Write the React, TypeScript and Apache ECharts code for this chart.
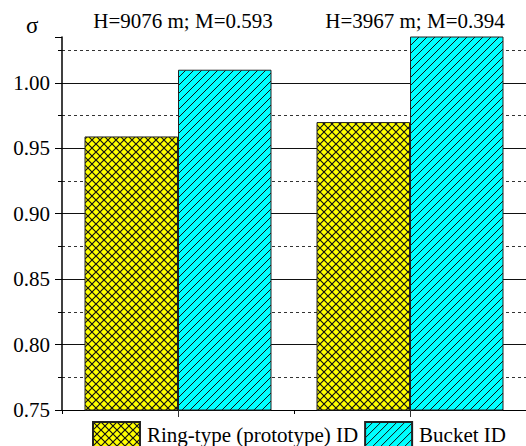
import React, { useEffect, useRef } from "react";
import * as echarts from "echarts";

const groupLabels = ["H=9076 m; M=0.593", "H=3967 m; M=0.394"];
const seriesNames = ["Ring-type (prototype) ID", "Bucket ID"];
const ringValues = [0.959, 0.970];
const bucketValues = [1.010, 1.045];
const yMin = 0.75;
const yMax = 1.035;
const yInterval = 0.05;

const FONT = "Liberation Serif";

function svgUrl(svg: string) {
  return "data:image/svg+xml;charset=utf-8," + encodeURIComponent(svg);
}

const crossTile = svgUrl(
  `<svg xmlns="http://www.w3.org/2000/svg" width="8" height="8"><rect width="8" height="8" fill="#ffff00"/><path d="M0 0L8 8M0 8L8 0" stroke="#111" stroke-width="1.2"/></svg>`
);
const diagTile = svgUrl(
  `<svg xmlns="http://www.w3.org/2000/svg" width="8" height="8"><rect width="8" height="8" fill="#00ffff"/><path d="M0 8L8 0M-1 1L1 -1M7 9L9 7" stroke="#111" stroke-width="1"/></svg>`
);

export default function App() {
  const ref = useRef<HTMLDivElement>(null);
  useEffect(() => {
    document.body.style.margin = "0";
    const chart = echarts.init(ref.current!, null, { renderer: "svg" });
    const yellow: any = { image: crossTile, repeat: "repeat", imageWidth: 8, imageHeight: 8 };
    const cyan: any = { image: diagTile, repeat: "repeat", imageWidth: 8, imageHeight: 8 };
    chart.setOption({
      animation: false,
      backgroundColor: "#ffffff",
      textStyle: { fontFamily: FONT, color: "#000" },
      grid: { left: 62, top: 37, width: 465, height: 373, containLabel: false },
      graphic: [
        {
          type: "text",
          left: 26,
          top: 14,
          style: { text: "σ", fontFamily: FONT, fontSize: 23, fill: "#000" },
        },
      ],
      legend: {
        left: 92,
        top: 421,
        padding: 0,
        itemWidth: 47,
        itemHeight: 26,
        itemGap: 6,
        icon: "rect",
        textStyle: { fontFamily: FONT, fontSize: 21, color: "#000", padding: [0, 0, 0, 2] },
        data: seriesNames,
      },
      xAxis: [
        {
          type: "category",
          data: groupLabels,
          position: "bottom",
          axisLine: { show: true, lineStyle: { color: "#000", width: 1 } },
          axisTick: { show: true, length: 4, lineStyle: { color: "#000" } },
          axisLabel: { show: false },
          splitLine: { show: false },
        },
        {
          type: "category",
          data: groupLabels,
          position: "bottom",
          axisLine: { show: false },
          axisTick: { show: true, alignWithLabel: true, length: 7, lineStyle: { color: "#333" } },
          axisLabel: { show: false },
          splitLine: { show: false },
        },
        {
          type: "category",
          data: groupLabels,
          position: "top",
          axisLine: { show: false },
          axisTick: { show: false },
          axisLabel: {
            show: true,
            interval: 0,
            hideOverlap: false,
            margin: 6,
            fontFamily: FONT,
            fontSize: 21,
            color: "#000",
            padding: [0, 0, 0, 10],
          },
          splitLine: { show: false },
        },
      ],
      yAxis: {
        type: "value",
        min: yMin,
        max: yMax,
        interval: yInterval,
        axisLine: { show: true, lineStyle: { color: "#000", width: 1.5 } },
        axisTick: { show: true, length: 7, lineStyle: { color: "#000" } },
        minorTick: { show: true, splitNumber: 2, length: 4, lineStyle: { color: "#000" } },
        axisLabel: {
          margin: 12,
          fontFamily: FONT,
          fontSize: 21,
          color: "#000",
          showMaxLabel: false,
          showMinLabel: true,
          formatter: (v: number) => v.toFixed(2),
        },
        splitLine: {
          show: true,
          showMinLine: false,
          showMaxLine: false,
          lineStyle: { color: "#111", width: 1 },
        },
        minorSplitLine: {
          show: true,
          lineStyle: { color: "#333", width: 1, type: [3, 3] },
        },
      },
      series: [
        {
          name: seriesNames[0],
          type: "bar",
          data: ringValues,
          barWidth: 93.5,
          barGap: "0%",
          clip: true,
          itemStyle: { color: yellow, borderColor: "#222", borderWidth: 1 },
        },
        {
          name: seriesNames[1],
          type: "bar",
          data: bucketValues,
          barWidth: 93.5,
          barGap: "0%",
          clip: true,
          itemStyle: { color: cyan, borderColor: "#222", borderWidth: 1 },
        },
      ],
    });
    return () => chart.dispose();
  }, []);
  return (
    <div
      ref={ref}
      style={{ position: "absolute", left: 0, top: 0, width: 526, height: 446 }}
    />
  );
}
